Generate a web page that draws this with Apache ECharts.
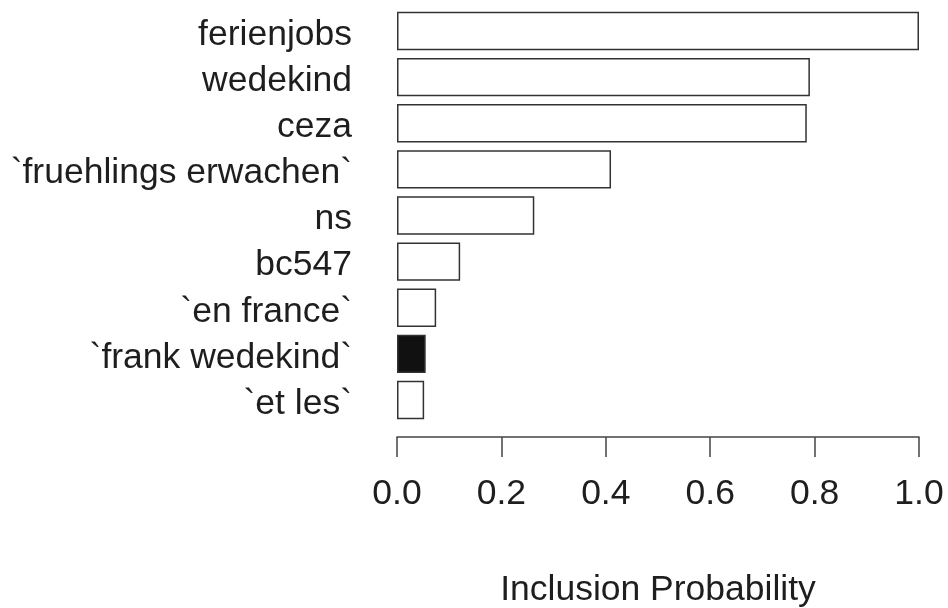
<!DOCTYPE html>
<html>
<head>
<meta charset="utf-8">
<script src="https://cdn.jsdelivr.net/npm/echarts@6/dist/echarts.min.js"></script>
<style>
html,body{margin:0;padding:0;background:#fff;}
#chart{width:948px;height:608px;}
</style>
</head>
<body>
<div id="chart"></div>
<script>
const categories = ["ferienjobs", "wedekind", "ceza", "`fruehlings erwachen`", "ns", "bc547", "`en france`", "`frank wedekind`", "`et les`"];
const values = [1.0, 0.791, 0.785, 0.41, 0.263, 0.121, 0.075, 0.055, 0.052];
const highlighted = ["`frank wedekind`"];
const xTicks = [0, 0.2, 0.4, 0.6, 0.8, 1.0];
const xTitle = "Inclusion Probability";

const chart = echarts.init(document.getElementById('chart'), null, {renderer: 'canvas'});
const font = "'Liberation Sans', Arial, Helvetica, sans-serif";
chart.setOption({
  animation: false,
  backgroundColor: '#fff',
  grid: {left: 397, right: 29, top: 8, bottom: 185, containLabel: false, outerBoundsMode: 'none'},
  xAxis: {
    type: 'value',
    min: xTicks[0], max: xTicks[xTicks.length - 1], interval: 0.2,
    offset: 14,
    axisLine: {show: true, lineStyle: {color: '#444', width: 1.5}},
    axisTick: {show: true, length: 20, lineStyle: {color: '#444', width: 1.5}},
    splitLine: {show: false},
    axisLabel: {color: '#1e1e1e', fontSize: 35.5, fontFamily: font, margin: 39,
      formatter: v => v.toFixed(1)},
    name: xTitle, nameLocation: 'middle', nameGap: 135,
    nameTextStyle: {color: '#1e1e1e', fontSize: 35.5, fontFamily: font}
  },
  yAxis: {
    type: 'category', data: categories, inverse: true,
    axisLine: {show: false}, axisTick: {show: false},
    axisLabel: {color: '#1e1e1e', fontSize: 35.5, fontFamily: font, margin: 45,
      interval: 0, hideOverlap: false, verticalAlign: 'top', lineHeight: 8}
  },
  series: [{
    type: 'bar',
    barCategoryGap: '16.7%',
    data: categories.map((c, i) => ({
      value: values[i],
      itemStyle: {color: highlighted.includes(c) ? '#111' : '#fff', borderColor: '#333', borderWidth: 1.5}
    }))
  }]
});
</script>
</body>
</html>
